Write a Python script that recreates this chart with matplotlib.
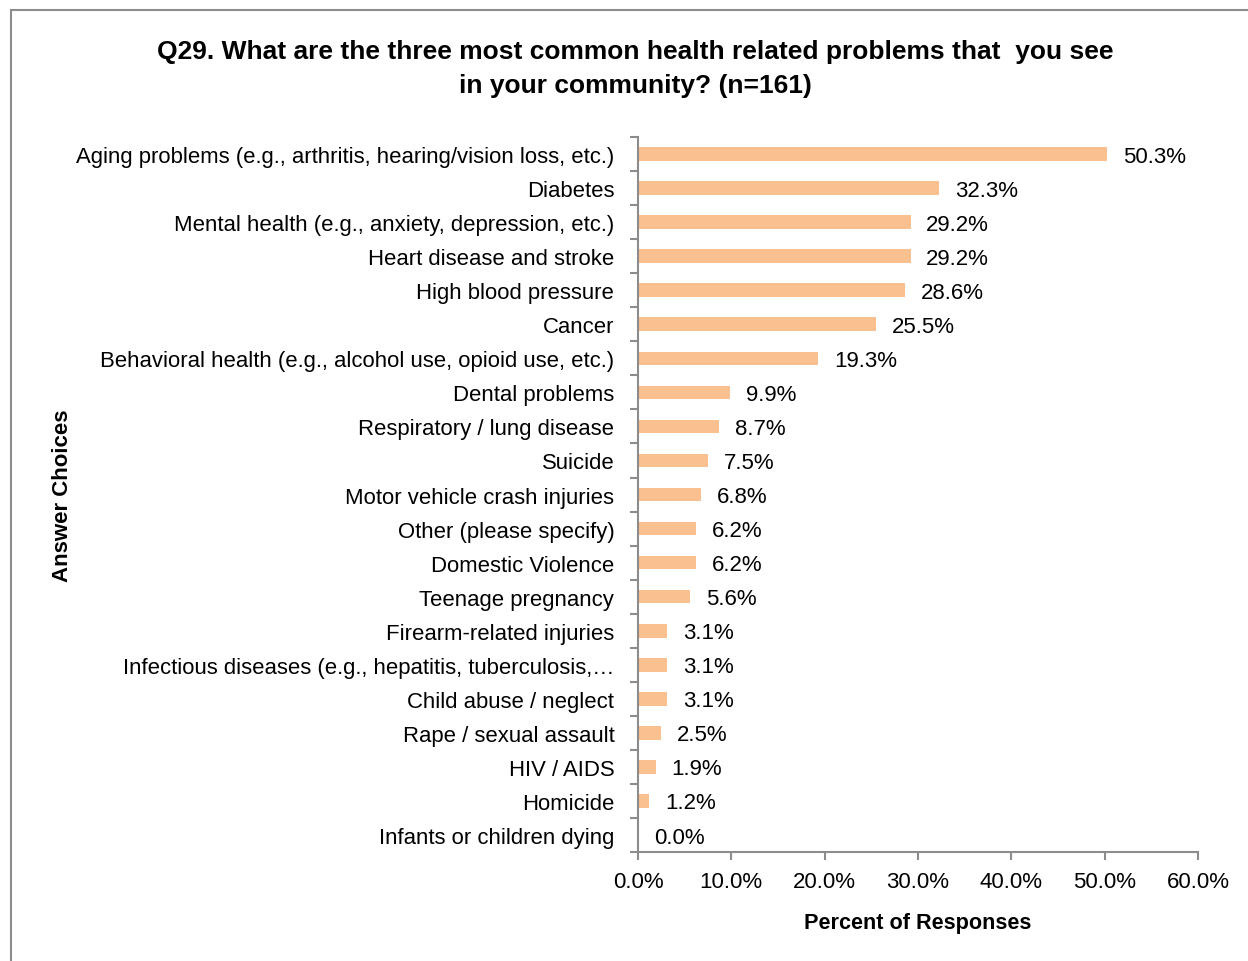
import matplotlib.pyplot as plt
from matplotlib.patches import Rectangle
from matplotlib.ticker import FuncFormatter

plt.rcParams['font.family'] = ['Liberation Sans', 'DejaVu Sans']

# answer choices, top to bottom
categories = [
    "Aging problems (e.g., arthritis, hearing/vision loss, etc.)",
    "Diabetes",
    "Mental health (e.g., anxiety, depression, etc.)",
    "Heart disease and stroke",
    "High blood pressure",
    "Cancer",
    "Behavioral health (e.g., alcohol use, opioid use, etc.)",
    "Dental problems",
    "Respiratory / lung disease",
    "Suicide",
    "Motor vehicle crash injuries",
    "Other (please specify)",
    "Domestic Violence",
    "Teenage pregnancy",
    "Firearm-related injuries",
    "Infectious diseases (e.g., hepatitis, tuberculosis,\u2026",
    "Child abuse / neglect",
    "Rape / sexual assault",
    "HIV / AIDS",
    "Homicide",
    "Infants or children dying",
]
percents = [50.3, 32.3, 29.2, 29.2, 28.6, 25.5, 19.3, 9.9, 8.7, 7.5, 6.8,
            6.2, 6.2, 5.6, 3.1, 3.1, 3.1, 2.5, 1.9, 1.2, 0.0]

fig = plt.figure(figsize=(12.48, 9.62), dpi=100)
ax = fig.add_axes([0.5112, 0.1133, 0.4487, 0.7432])

# outer border of the chart area
fig.patches.append(Rectangle((11 / 1248, -0.1), 1.2, 0.1 + 1 - 11 / 962,
                             transform=fig.transFigure, fill=False,
                             edgecolor='#8c8c8c', linewidth=1.5))

y = list(range(len(categories)))
ax.barh(y, percents, height=0.4, color='#FAC090')
for yi, v in zip(y, percents):
    ax.text(v + 1.7, yi + 0.06, f"{v:.1f}%", va='center', ha='left', fontsize=16)

ax.set_ylim(len(categories) - 0.5, -0.5)
ax.set_xlim(0, 60)
ax.set_xticks(range(0, 61, 10))
ax.xaxis.set_major_formatter(FuncFormatter(lambda v, p: f"{v:.1f}%"))
# ticks sit between categories, labels centred on the bars
ax.set_yticks([i - 0.5 for i in range(len(categories) + 1)], minor=False)
ax.set_yticklabels([])
ax.set_yticks(y, minor=True)
ax.set_yticklabels(categories, minor=True, fontsize=15.9)
ax.tick_params(axis='y', which='minor', length=0, pad=17)
ax.tick_params(axis='y', which='major', length=6, color='#8c8c8c', width=1.5)
ax.tick_params(axis='x', length=6, color='#8c8c8c', width=1.5, labelsize=16, pad=8)

for s in ['top', 'right']:
    ax.spines[s].set_visible(False)
for s in ['left', 'bottom']:
    ax.spines[s].set_color('#8c8c8c')
    ax.spines[s].set_linewidth(1.5)

fig.text(0.509, 0.928,
         "Q29. What are the three most common health related problems that  you see\nin your community? (n=161)",
         ha='center', va='center', fontsize=19, fontweight='bold', linespacing=1.55)
fig.text(0.05, 0.485, "Answer Choices", rotation=90, ha='center', va='center',
         fontsize=16, fontweight='bold')
fig.text(0.7356, 0.04, "Percent of Responses", ha='center', va='center',
         fontsize=15.6, fontweight='bold')

fig.savefig('out.png', dpi=100)
